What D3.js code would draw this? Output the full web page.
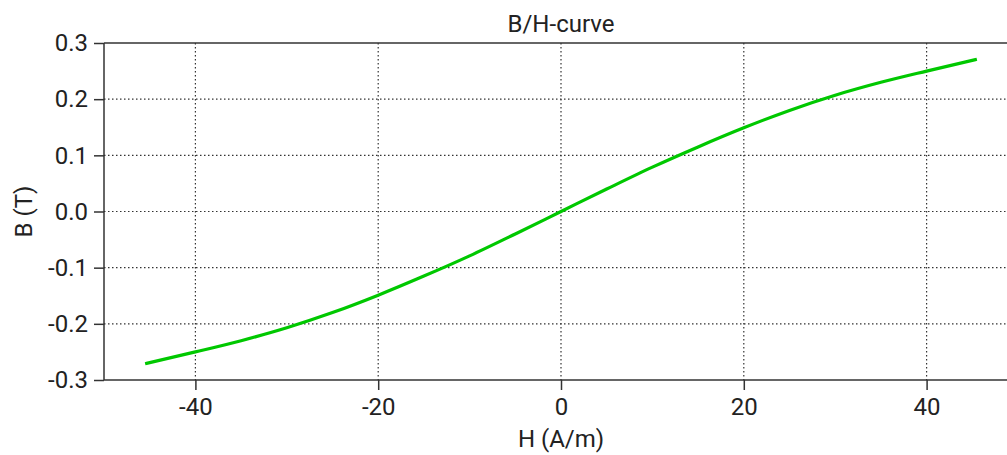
<!DOCTYPE html>
<html>
<head>
<meta charset="utf-8">
<script src="https://cdn.jsdelivr.net/npm/d3@7"></script>
<style>
  body { margin: 0; background: #fff; }
  text { font-family: Roboto, "DejaVu Sans", sans-serif; fill: #222; }
</style>
</head>
<body>
<div id="root"></div>
<script>
// Data
const hValues = [-45.5, -40, -35, -30, -25, -20, -15, -10, -5, 0, 5, 10, 15, 20, 25, 30, 35, 40, 45.5];
const bValues = [-0.271, -0.250, -0.230, -0.207, -0.180, -0.149, -0.115, -0.079, -0.040, 0, 0.040, 0.079, 0.115, 0.149, 0.180, 0.207, 0.230, 0.250, 0.271];
const xTicks = [-40, -20, 0, 20, 40];
const yTicks = [-0.3, -0.2, -0.1, 0.0, 0.1, 0.2, 0.3];

const W = 1007, H = 455;
const margin = { top: 43, right: -11, bottom: 75, left: 104 },
  width = W - margin.left - margin.right,
  height = H - margin.top - margin.bottom;

const svg = d3.select("#root")
  .append("svg")
  .attr("width", W)
  .attr("height", H);

const g = svg.append("g")
  .attr("transform", "translate(" + margin.left + "," + margin.top + ")");

const x = d3.scaleLinear().domain([-50, 50]).range([0, width]);
const y = d3.scaleLinear().domain([-0.3, 0.3]).range([height, 0]);

// plain hyphen for negatives, like the original
const hyph = f => d => f(d).replace("\u2212", "-");

// grid
g.append("g").selectAll("line")
  .data(xTicks)
  .enter().append("line")
  .attr("x1", d => x(d)).attr("x2", d => x(d))
  .attr("y1", 0).attr("y2", height)
  .attr("stroke", "#333").attr("stroke-width", 1.2)
  .attr("stroke-dasharray", "1.5,2.5");

g.append("g").selectAll("line")
  .data(yTicks.slice(1, -1))
  .enter().append("line")
  .attr("x1", 0).attr("x2", width)
  .attr("y1", d => y(d)).attr("y2", d => y(d))
  .attr("stroke", "#333").attr("stroke-width", 1.2)
  .attr("stroke-dasharray", "1.5,2.5");

// top border
g.append("line")
  .attr("x1", 0).attr("x2", width)
  .attr("y1", 0).attr("y2", 0)
  .attr("stroke", "#333").attr("stroke-width", 1.5);

// axes
const xAxis = g.append("g")
  .attr("transform", "translate(0," + height + ")")
  .call(d3.axisBottom(x).tickValues(xTicks).tickSize(10).tickPadding(8).tickFormat(hyph(d3.format("d"))));
const yAxis = g.append("g")
  .call(d3.axisLeft(y).tickValues(yTicks).tickSize(10).tickPadding(6).tickFormat(hyph(d3.format(".1f"))));

[xAxis, yAxis].forEach(a => {
  a.select(".domain").attr("stroke", "#333").attr("stroke-width", 1.5);
  a.selectAll(".tick line").attr("stroke", "#333").attr("stroke-width", 1.5);
  a.selectAll("text").style("font-size", "24px").style("font-family", "Roboto, sans-serif").attr("fill", "#222");
});
xAxis.selectAll(".domain").attr("d", "M0,0H" + width);
yAxis.selectAll(".domain").attr("d", "M0," + height + "V0");

// curve
const pts = hValues.map((h, i) => [h, bValues[i]]);
g.append("path")
  .datum(pts)
  .attr("fill", "none")
  .attr("stroke", "#00c800")
  .attr("stroke-width", 3.2)
  .attr("d", d3.line().x(d => x(d[0])).y(d => y(d[1])).curve(d3.curveMonotoneX));

// labels
svg.append("text")
  .attr("x", margin.left + x(0)).attr("y", 32)
  .attr("text-anchor", "middle")
  .style("font-size", "24px")
  .text("B/H-curve");

svg.append("text")
  .attr("x", margin.left + x(0)).attr("y", 447)
  .attr("text-anchor", "middle")
  .style("font-size", "24px")
  .text("H (A/m)");

svg.append("text")
  .attr("transform", "translate(32," + (margin.top + y(0)) + ") rotate(-90)")
  .attr("text-anchor", "middle")
  .style("font-size", "24px")
  .text("B (T)");
</script>
</body>
</html>
